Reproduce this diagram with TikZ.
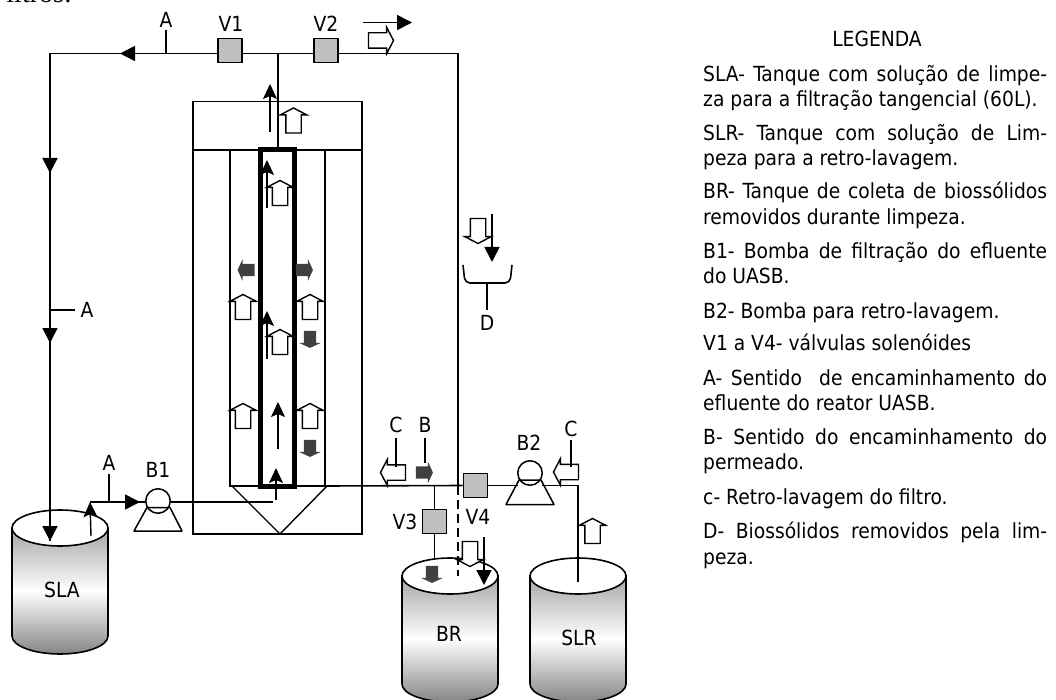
\documentclass[tikz,border=0pt]{standalone}
\usepackage{fontspec}
\setmainfont{DejaVu Sans Condensed}
\newfontfamily\serifcap{Liberation Serif}
\usetikzlibrary{arrows.meta,shapes.arrows}
\tikzset{
    pipe/.style={line width=1.6pt},
    wall/.style={line width=1.4pt},
    flow/.style={line width=1.4pt,-{Stealth[length=15pt,width=14pt,inset=3pt]}},
    heavy/.style={line width=1.6pt,-{Triangle[length=15pt,width=15pt]}},
    valve/.style={draw,line width=1.6pt,fill=black!25,minimum size=24pt,inner sep=0pt},
    pumphead/.style={draw,circle,line width=1.5pt,minimum size=24.5pt,inner sep=0pt},
    pumpbase/.style={line width=1.5pt,line join=round},
    openup/.style={draw,fill=white,single arrow,line width=1.4pt,minimum width=25pt,minimum height=25pt,
        single arrow head extend=5.5pt,single arrow tip angle=125,inner xsep=0pt,inner ysep=7pt},
    solidup/.style={single arrow,fill=black!75,minimum width=21pt,minimum height=17pt,
        single arrow head extend=4.5pt,single arrow tip angle=130,inner xsep=0pt,inner ysep=6pt},
    tag/.style={inner sep=0pt,font=\fontsize{20.8}{21}\selectfont},
    legendtxt/.style={anchor=north west,inner sep=0pt,text width=344pt,align=justify,
        font=\fontsize{20.8}{25.5}\selectfont},
}
\begin{document}
\begin{tikzpicture}[x=1pt,y=-1pt]
    \useasboundingbox (0,0) rectangle (1056,700);
    \node[anchor=base east,inner sep=0pt,font=\serifcap\fontsize{28}{28}\selectfont] (cap) at (72,3) {iltros:};

    % tanks
    \foreach \tankname/\tx/\ty/\tw in {SLA/60/528/48,BR/450/576/48,SLR/578/576/48}{
        \path[draw,line width=1.6pt,top color=black!35,bottom color=black!48,middle color=white]
            (\tx-\tw,\ty) -- (\tx-\tw,\ty+108) arc[start angle=180,end angle=360,x radius=\tw,y radius=-18]
            -- (\tx+\tw,\ty) -- cycle;
        \draw[line width=1.6pt,fill=white] (\tx,\ty) ellipse[x radius=\tw,y radius=18];
    }
    \node[tag] (SLA) at (62,590) {SLA};
    \node[tag] (BR) at (449,634) {BR};
    \node[tag] (SLR) at (579,638) {SLR};

    % reactor
    \draw[wall] (193,101.5) rectangle (362,534);
    \draw[wall] (193,150) -- (362,150);
    \draw[wall] (230,150) -- (230,486) -- (325,486) -- (325,150);
    \draw[wall] (232,486) -- (280,534) -- (327,486);
    \draw[line width=5pt] (260,150) rectangle (294,486);

    % valves and pumps
    \node[valve] (V1) at (230,50.5) {};
    \node[valve] (V2) at (326,50.5) {};
    \node[valve] (V3) at (434.5,521.5) {};
    \node[valve] (V4) at (475.5,485.5) {};
    \node[pumphead] (B1) at (158,501) {};
    \node[pumphead] (B2) at (530,473) {};
    \draw[pumpbase] (147,507.5) -- (170,507.5) -- (182,531) -- (134,531) -- cycle;
    \draw[pumpbase] (519,480) -- (541,480) -- (554,504.5) -- (506,504.5) -- cycle;

    \coordinate (topleft) at (50,53.5);
    \coordinate (topjoin) at (278,53.5);
    \coordinate (topright) at (458,53.5);
    \coordinate (lowjoin) at (458,486);
    \coordinate (v3join) at (434.5,486);
    \coordinate (cellout) at (325,486);
    \coordinate (b2left) at (518,485.5);
    \coordinate (b2right) at (542,485.5);
    \coordinate (slrcorner) at (578,485.5);
    \coordinate (slrin) at (578,582);
    \coordinate (brin) at (434.5,558);
    \coordinate (slain) at (50,541);
    \coordinate (slaout) at (91,536);
    \coordinate (feedcorner) at (90,502);
    \coordinate (feedend) at (273,502);
    \coordinate (celltop) at (278,150);
    \coordinate (dashend) at (458,576);

    % pipes
    \draw[pipe] (V1.west |- topjoin) -- (topleft) -- (slain);
    \draw[pipe] (V1.east |- topjoin) -- (topjoin) -- (V2.west |- topjoin);
    \draw[pipe] (V2.east |- topjoin) -- (topright) -- (lowjoin);
    \draw[pipe] (topjoin) -- (celltop);
    \draw[pipe] (cellout) -- (V4.west);
    \draw[pipe] (V4.east) -- (b2left);
    \draw[pipe] (b2right) -- (slrcorner) -- (slrin);
    \draw[pipe] (v3join) -- (V3.north);
    \draw[pipe] (V3.south) -- (brin);
    \draw[pipe,dash pattern=on 9pt off 5pt] (lowjoin) -- (dashend);
    \draw[line width=1.9pt] (feedcorner) -- (B1.west |- feedcorner);
    \draw[wall] (B1.east |- feedend) -- (feedend);

    % arrow heads on the lines
    \draw[heavy] (135,53.5) -- (120,53.5);
    \draw[heavy] (50,158) -- (50,173);
    \draw[heavy] (50,328) -- (50,343);
    \draw[heavy] (50,526) -- (slain);
    \draw[heavy] (125,502) -- (140,502);
    \draw[flow] (slaout) -- (feedcorner);
    \draw[flow] (276,500) -- (276,468);
    \draw[flow] (278,449) -- (278,402);
    \draw[flow] (267,359) -- (267,311);
    \draw[flow] (267,208) -- (267,160);
    \draw[flow] (270,132) -- (270,84);
    \draw[heavy] (363,22.5) -- (412,22.5);
    \draw[heavy] (492,214) -- (492,262);
    \draw[heavy] (484,537) -- (484,585);

    % open arrows
    \foreach \ax/\ay/\adir in {293.5/122.5/90,280/195/90,243/309/90,310/309/90,280/344/90,243/418/90,310/418/90,
        592.5/533/90,379/40.5/0,395/472.5/180,568/472/180,478/229/-90,470/552/-90}{
        \node[openup,rotate=\adir] at (\ax,\ay) {};
    }
    % solid arrows
    \foreach \ax/\ay/\adir in {247.5/270/180,303/270/0,310/338/-90,310/447/-90,423/472.5/0,432/573/-90}{
        \node[solidup,rotate=\adir] at (\ax,\ay) {};
    }

    % collector
    \node[tag] (D) at (487,323) {D};
    \coordinate (cupmid) at (487,283);
    \draw[pipe,rounded corners=5pt] (463,265) -- (465,283) -- (510,283) -- (512,265);
    \draw[pipe] (cupmid) -- ([yshift=5pt]D.north);

    % labels with ticks
    \node[tag] (atop) at (166,20) {A};
    \node[tag] (aleft) at (87,310) {A};
    \node[tag] (afeed) at (109,463) {A};
    \node[tag] (cleft) at (396,425) {C};
    \node[tag] (bleft) at (425,425) {B};
    \node[tag] (cright) at (571,429) {C};
    \draw[pipe] ([yshift=-2pt]atop.south) -- (atop.south |- topjoin);
    \draw[pipe] (50,310) -- ([xshift=-5pt]aleft.west);
    \draw[pipe] ([yshift=-3pt]afeed.south) -- (afeed.south |- feedcorner);
    \draw[pipe] ([yshift=-5pt]cleft.south) -- (396,467);
    \draw[pipe] ([yshift=-5pt]bleft.south) -- (425,463);
    \draw[pipe] ([yshift=-3pt]cright.south) -- (571,467);

    \node[tag] (v1txt) at (231,24) {V1};
    \node[tag] (v2txt) at (326,24) {V2};
    \node[tag] (v3txt) at (405,522) {V3};
    \node[tag] (v4txt) at (478,517) {V4};
    \node[tag] (b1txt) at (158,470) {B1};
    \node[tag] (b2txt) at (529,443) {B2};

    % legend
    \node[tag] (legtitle) at (877,39) {LEGENDA};
    \node[legendtxt] (lsla) at (703,65) {SLA- Tanque com solução de limpe-\linebreak za para a filtração tangencial (60L).};
    \node[legendtxt] (lslr) at (703,124) {SLR- Tanque com solução de Lim-\linebreak peza para a retro-lavagem.};
    \node[legendtxt] (lbr) at (703,182) {BR- Tanque de coleta de biossólidos\linebreak removidos durante limpeza.};
    \node[legendtxt] (lb1) at (703,242) {B1- Bomba de filtração do efluente\linebreak do UASB.};
    \node[legendtxt] (lb2) at (703,302) {B2- Bomba para retro-lavagem.};
    \node[legendtxt] (lv) at (703,334) {V1 a V4- válvulas solenóides};
    \node[legendtxt] (la) at (703,369) {A- Sentido \ de encaminhamento do\linebreak efluente do reator UASB.};
    \node[legendtxt] (lb) at (703,428) {B- Sentido do encaminhamento do\linebreak permeado.};
    \node[legendtxt] (lc) at (703,488) {c- Retro-lavagem do filtro.};
    \node[legendtxt] (ld) at (703,522) {D- Biossólidos removidos pela lim-\linebreak peza.};
\end{tikzpicture}
\end{document}
